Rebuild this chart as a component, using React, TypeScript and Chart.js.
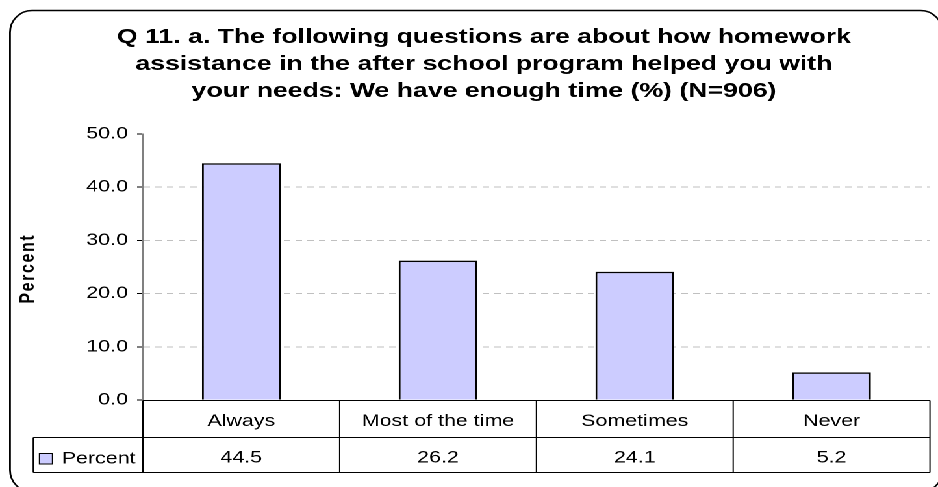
import React, { useEffect, useRef } from 'react';
import { Chart, registerables } from 'chart.js';

Chart.register(...registerables);

// ---- data ----
const categories = ['Always', 'Most of the time', 'Sometimes', 'Never'];
const percentValues = [44.5, 26.2, 24.1, 5.2];
const seriesName = 'Percent';
const yAxisTitle = 'Percent';
const yMin = 0;
const yMax = 50;
const yStep = 10;
const titleLines = [
  'Q 11. a. The following questions are about how homework',
  'assistance in the after school program helped you with',
  'your needs: We have enough time (%) (N=906)',
];

// ---- layout (internal canvas is stretched horizontally to the window width) ----
const W = 722;
const H = 487;
const SX = 938 / W;
const FONT = '"Liberation Sans", Arial, Helvetica, sans-serif';

function drawSpaced(ctx: CanvasRenderingContext2D, text: string, cx: number, y: number, spacing: number) {
  const chars = Array.from(text);
  const widths = chars.map((c) => ctx.measureText(c).width);
  const total = widths.reduce((a, b) => a + b, 0) + spacing * (chars.length - 1);
  let x = cx - total / 2;
  ctx.textAlign = 'left';
  chars.forEach((c, i) => {
    ctx.fillText(c, x, y);
    x += widths[i] + spacing;
  });
}

const decorPlugin = {
  id: 'decor',
  beforeDraw(chart: any) {
    const ctx = chart.ctx;
    ctx.save();
    ctx.fillStyle = '#ffffff';
    ctx.fillRect(0, 0, chart.width, chart.height);
    ctx.restore();
  },
  afterDraw(chart: any) {
    const { ctx, chartArea } = chart;
    const xs = chart.scales.x;

    // outer rounded border
    ctx.save();
    ctx.strokeStyle = '#000';
    ctx.lineWidth = 1.4;
    const L = 7.7, T = 10.5, R = 725.5, B = 492, rx = 17, ry = 22;
    ctx.beginPath();
    ctx.moveTo(L + rx, T);
    ctx.lineTo(R - rx, T);
    ctx.ellipse(R - rx, T + ry, rx, ry, 0, -Math.PI / 2, 0);
    ctx.lineTo(R, B - ry);
    ctx.ellipse(R - rx, B - ry, rx, ry, 0, 0, Math.PI / 2);
    ctx.lineTo(L + rx, B);
    ctx.ellipse(L + rx, B - ry, rx, ry, 0, Math.PI / 2, Math.PI);
    ctx.lineTo(L, T + ry);
    ctx.ellipse(L + rx, T + ry, rx, ry, 0, Math.PI, Math.PI * 1.5);
    ctx.closePath();
    ctx.stroke();
    ctx.restore();

    // title
    ctx.save();
    ctx.fillStyle = '#000';
    ctx.font = `bold 20.5px ${FONT}`;
    ctx.textAlign = 'center';
    ctx.textBaseline = 'alphabetic';
    titleLines.forEach((t, i) => ctx.fillText(t, 372.5, 43 + i * 27));
    ctx.restore();

    // y axis title
    ctx.save();
    ctx.fillStyle = '#000';
    ctx.translate(26.2, 269.5);
    ctx.rotate(-Math.PI / 2);
    ctx.font = `bold 16px ${FONT}`;
    ctx.textBaseline = 'alphabetic';
    drawSpaced(ctx, yAxisTitle, 0, 0, 1.6);
    ctx.restore();

    // data table
    const step = xs.getPixelForValue(1) - xs.getPixelForValue(0);
    const first = xs.getPixelForValue(0) - step / 2;
    const right = chartArea.right;
    const row0 = Math.round(chartArea.bottom) + 0.5;
    const row1 = 437.5;
    const row2 = 472.5;
    const tableLeft = 25.6;
    ctx.save();
    ctx.strokeStyle = '#000';
    ctx.lineWidth = 1;
    ctx.beginPath();
    ctx.moveTo(chartArea.left, row0); ctx.lineTo(right, row0);
    ctx.moveTo(tableLeft, row1); ctx.lineTo(right, row1);
    ctx.moveTo(tableLeft, row2); ctx.lineTo(right, row2);
    ctx.moveTo(tableLeft, row1); ctx.lineTo(tableLeft, row2);
    for (let i = 0; i <= categories.length; i++) {
      const xx = first + i * step;
      ctx.moveTo(xx, row0); ctx.lineTo(xx, row2);
    }
    ctx.stroke();

    ctx.fillStyle = '#000';
    ctx.font = `16.5px ${FONT}`;
    ctx.textAlign = 'center';
    ctx.textBaseline = 'alphabetic';
    categories.forEach((c, i) => {
      ctx.fillText(c, xs.getPixelForValue(i), 426);
    });
    percentValues.forEach((v, i) => {
      ctx.fillText(v.toFixed(1), xs.getPixelForValue(i), 462.5);
    });

    // legend key
    ctx.fillStyle = '#ccccff';
    ctx.fillRect(30.4, 453.5, 10, 10.5);
    ctx.strokeStyle = '#000';
    ctx.lineWidth = 1;
    ctx.strokeRect(30.4, 453.5, 10, 10.5);
    ctx.fillStyle = '#000';
    ctx.textAlign = 'left';
    ctx.fillText(seriesName, 47.5, 463.5);
    ctx.restore();
  },
};

export default function App() {
  const canvasRef = useRef<HTMLCanvasElement | null>(null);

  useEffect(() => {
    const canvas = canvasRef.current;
    if (!canvas) return;
    const chart = new Chart(canvas, {
      type: 'bar',
      data: {
        labels: categories,
        datasets: [
          {
            label: seriesName,
            data: percentValues,
            backgroundColor: '#ccccff',
            borderColor: '#000000',
            borderWidth: 1.5,
            barPercentage: 0.4,
            categoryPercentage: 1,
          },
        ],
      },
      options: {
        animation: false,
        responsive: false,
        devicePixelRatio: 2,
        layout: { padding: { left: 0, right: 6.2, top: 134, bottom: 87 } },
        plugins: {
          legend: { display: false },
          title: { display: false },
          tooltip: { enabled: false },
        },
        scales: {
          x: { display: false },
          y: {
            min: yMin,
            max: yMax,
            afterFit: (scale: any) => {
              scale.width = 110;
            },
            ticks: {
              stepSize: yStep,
              padding: 7,
              color: '#000',
              font: { family: FONT, size: 16.5 },
              callback: (v: any) => Number(v).toFixed(1),
            },
            grid: {
              color: (c: any) =>
                c.tick && (c.tick.value === yMin || c.tick.value === yMax) ? 'rgba(0,0,0,0)' : '#c0c0c0',
              lineWidth: 1,
              tickLength: 4.5,
              tickColor: '#000',
              tickWidth: 1,
              drawTicks: true,
            },
            border: { display: true, color: '#808080', width: 1, dash: [5, 4] },
          },
        },
      },
      plugins: [decorPlugin],
    });
    return () => chart.destroy();
  }, []);

  return (
    <div
      style={{
        position: 'fixed',
        left: 0,
        top: 0,
        width: W,
        height: H,
        transform: `scaleX(${SX})`,
        transformOrigin: '0 0',
        background: '#fff',
      }}
    >
      <canvas ref={canvasRef} width={W} height={H} style={{ width: W, height: H, display: 'block' }} />
    </div>
  );
}
